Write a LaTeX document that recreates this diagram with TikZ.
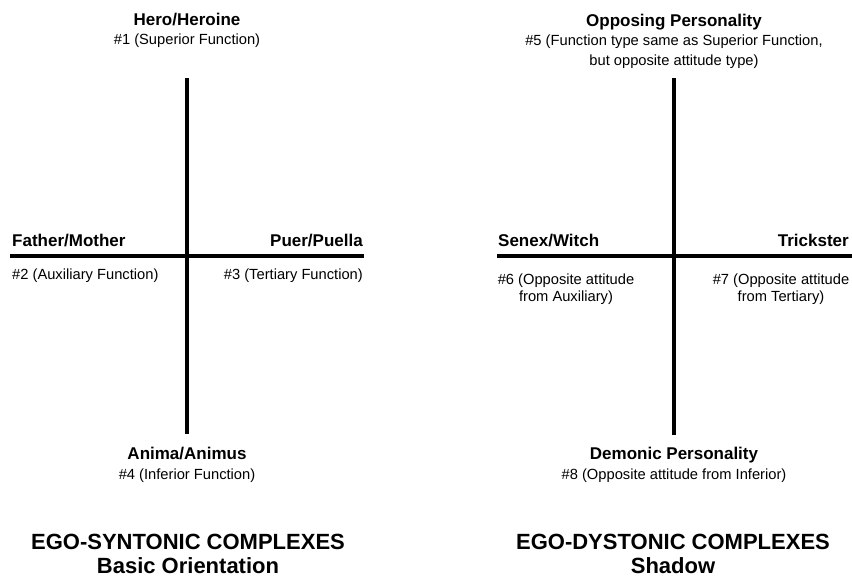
\documentclass[tikz,border=0pt]{standalone}
\usepackage{fontspec}
\setmainfont{Liberation Sans}
\begin{document}
\begin{tikzpicture}[x=1pt,y=-1pt,
  axis/.style={line width=4.5pt,black},
  head/.style={inner sep=0pt,font=\fontsize{17}{19}\selectfont\bfseries},
  note/.style={inner sep=0pt,font=\fontsize{14.7}{17}\selectfont,align=center},
  title/.style={inner sep=0pt,font=\fontsize{22}{24}\selectfont\bfseries}]
\useasboundingbox (0,0) rectangle (852,576);

% ---------------- Ego-syntonic cross ----------------
\coordinate (sTop) at (187,78);
\coordinate (sBot) at (187,434);
\coordinate (sLeft) at (10,256);
\coordinate (sRight) at (364,256);
\draw[axis,line width=4pt] (sTop) -- (sBot);
\draw[axis] (sLeft) -- (sRight);

\node[head,anchor=base] (hero) at (187,25) {Hero/Heroine};
\node[note,anchor=base] (heroN) at (187,44) {\#1 (Superior Function)};
\node[head,anchor=base west] (father) at (12,246) {Father/Mother};
\node[note,anchor=base west] (fatherN) at (12,279) {\#2 (Auxiliary Function)};
\node[head,anchor=base east] (puer) at (363,246) {Puer/Puella};
\node[note,anchor=base east] (puerN) at (363,279) {\#3 (Tertiary Function)};
\node[head,anchor=base] (anima) at (187,459) {Anima/Animus};
\node[note,anchor=base] (animaN) at (187,479) {\#4 (Inferior Function)};
\node[title,anchor=base] (syn) at (188,549) {EGO-SYNTONIC COMPLEXES};
\node[title,anchor=base] (synSub) at (188,573) {Basic Orientation};

% ---------------- Ego-dystonic cross ----------------
\coordinate (dTop) at (674,78);
\coordinate (dBot) at (674,435);
\coordinate (dLeft) at (497,256);
\coordinate (dRight) at (852,256);
\draw[axis,line width=4pt] (dTop) -- (dBot);
\draw[axis] (dLeft) -- (dRight);

\node[head,anchor=base] (opp) at (674,26) {Opposing Personality};
\node[note,anchor=north] (oppN) at (674,34.5) {\#5 (Function type same as Superior Function,\\[3pt] but opposite attitude type)};
\node[head,anchor=base west] (senex) at (498,246) {Senex/Witch};
\node[note,anchor=north] (senexN) at (566,273.5) {\#6 (Opposite attitude\\ from Auxiliary)};
\node[head,anchor=base east] (trick) at (849,246) {Trickster};
\node[note,anchor=north] (trickN) at (781,273.5) {\#7 (Opposite attitude\\ from Tertiary)};
\node[head,anchor=base] (demon) at (674,459) {Demonic Personality};
\node[note,anchor=base] (demonN) at (674,479) {\#8 (Opposite attitude from Inferior)};
\node[title,anchor=base] (dys) at (673,549) {EGO-DYSTONIC COMPLEXES};
\node[title,anchor=base] (dysSub) at (673,573) {Shadow};
\end{tikzpicture}
\end{document}
